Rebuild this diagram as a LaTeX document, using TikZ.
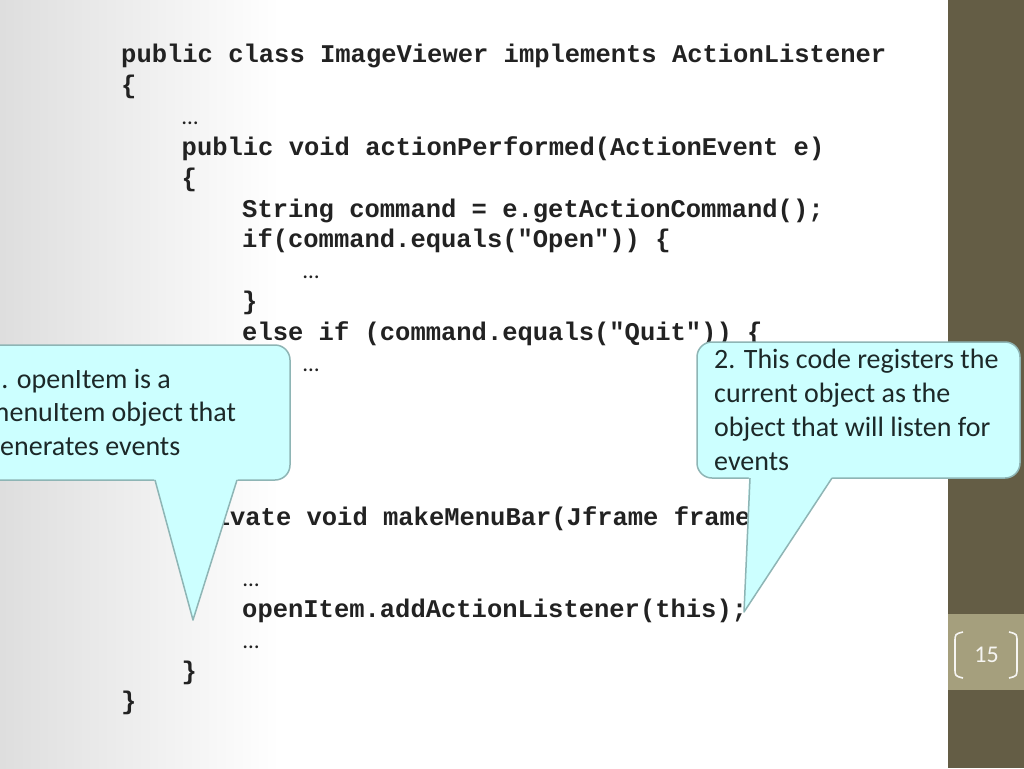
\documentclass[tikz,border=0pt]{standalone}
\usepackage{fontspec}
\setmainfont{Carlito}
\newfontfamily\codefont{Liberation Mono}
\usetikzlibrary{positioning}
\definecolor{callfill}{HTML}{CCFFFF}
\definecolor{callline}{HTML}{8EB5B5}
\definecolor{barolive}{HTML}{645D45}
\definecolor{boxolive}{HTML}{A59F7D}
\definecolor{codeink}{HTML}{222222}
\definecolor{noteink}{HTML}{1C2828}

\begin{document}
\begin{tikzpicture}[x=1pt,y=-1pt,
  code/.style={anchor=base west,inner sep=0pt,text=codeink,font=\codefont\bfseries\fontsize{25.5}{30}\selectfont},
  dots/.style={anchor=base west,inner sep=0pt,text=codeink,font=\fontsize{23}{26}\selectfont},
  note/.style={anchor=base west,inner sep=0pt,text=noteink,font=\fontsize{28}{33}\selectfont},
  callout/.style={fill=callfill,draw=callline,line width=1.5pt,line join=round}]
  \useasboundingbox (0,0) rectangle (1024,768);
  % page background
  \fill[white] (0,0) rectangle (1024,768);
  \shade[left color=black!13,middle color=black!4,right color=white] (0,0) rectangle (280,768);
  \fill[barolive] (948,0) rectangle (1024,768);
  \fill[boxolive] (948,614) rectangle (1024,690);
  \draw[white!90!boxolive,line width=1.6pt] (963,632) .. controls (955,634) .. (955,642) -- (955,668) .. controls (955,676) .. (963,678);
  \draw[white!90!boxolive,line width=1.6pt] (1009,632) .. controls (1017,634) .. (1017,642) -- (1017,668) .. controls (1017,676) .. (1009,678);
  \node[text=white!90!boxolive,font=\fontsize{24}{28}\selectfont] (pagenum) at (986.5,655) {15};

  % code
  \node[code] (cls) at (121,63) {public class ImageViewer implements ActionListener};
  \node[code] (clsopen) at (121,93.8) {\{};
  \node[dots] (dotsa) at (182,124.6) {…};
  \node[code] (act) at (181.5,155.4) {public void actionPerformed(ActionEvent e)};
  \node[code] (actopen) at (181.5,186.2) {\{};
  \node[code] (cmd) at (242,217) {String command = e.getActionCommand();};
  \node[code] (ifopen) at (242,247.8) {if(command.equals("Open")) \{};
  \node[dots] (dotsb) at (303,278.6) {…};
  \node[code] (ifclose) at (242,309.4) {\}};
  \node[code] (elseif) at (242,340.2) {else if (command.equals("Quit")) \{};
  \node[dots] (dotsc) at (303,371) {…};
  \node[code] (menubar) at (184,525) {private void makeMenuBar(Jframe frame)};
  \node[dots] (dotsd) at (243,586.6) {…};
  \node[code] (listen) at (242,617.4) {openItem.addActionListener(this);};
  \node[dots] (dotse) at (243,648.2) {…};
  \node[code] (menuclose) at (181.5,679) {\}};
  \node[code] (clsclose) at (121,709.8) {\}};

  % callout 1
  \draw[callout,rounded corners=15pt] (-30,345) rectangle (290,480);
  \fill[callfill] (154,478) -- (193,620) -- (238,478) -- cycle;
  \draw[callout,fill=none] (155,480) -- (193,620) -- (237,480);
  \node[note] (notea1) at (-13,388) {1. openItem is a};
  \node[note] (notea2) at (-13,421.5) {menuItem object that};
  \node[note] (notea3) at (-13,455) {generates events};

  % callout 2
  \draw[callout,rounded corners=15pt] (697,342) rectangle (1020,478);
  \fill[callfill] (749,476) -- (744,612) -- (833,476) -- cycle;
  \draw[callout,fill=none] (750,478) -- (744,612) -- (832,478);
  \node[note] (noteb1) at (714,368) {2. This code registers the};
  \node[note] (noteb2) at (714,402) {current object as the};
  \node[note] (noteb3) at (714,436) {object that will listen for};
  \node[note] (noteb4) at (714,470) {events};
\end{tikzpicture}
\end{document}
